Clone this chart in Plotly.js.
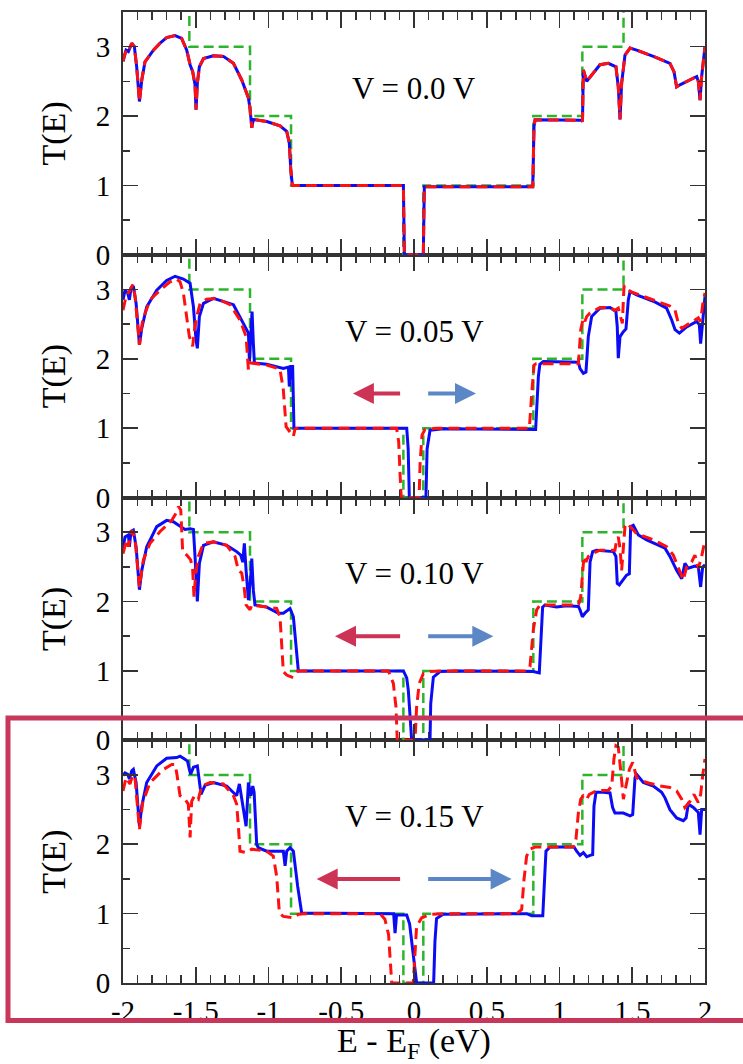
<!DOCTYPE html>
<html>
<head>
<meta charset="utf-8">
<script src="https://cdn.plot.ly/plotly-3.0.1.min.js"></script>
<style>html,body{margin:0;padding:0;background:#fff;}#chart{width:743px;height:1064px;}</style>
</head>
<body>
<div id="chart"></div>
<script>
// ---------- data (E - E_F in eV, T(E)) ----------
const xTickVals = [-2, -1.5, -1, -0.5, 0, 0.5, 1, 1.5, 2];
const xTickText = ['-2', '-1.5', '-1', '-0.5', '0', '0.5', '1', '1.5', '2'];
const yTickVals = [0, 1, 2, 3];
const yTickText = ['0', '1', '2', '3'];
const biasLabels = ['V = 0.0 V', 'V = 0.05 V', 'V = 0.10 V', 'V = 0.15 V'];

// ideal (pristine) step transmission, same in every panel
const ideal_E = [-2, -1.544, -1.544, -1.127, -1.127, -0.845, -0.845, -0.073, -0.073, 0.064, 0.064, 0.82, 0.82, 1.157, 1.157, 1.44, 1.44, 2];
const ideal_T = [4, 4, 3, 3, 2, 2, 1, 1, 0, 0, 1, 1, 2, 2, 3, 3, 4, 4];

// V = 0.0 V (blue and red coincide)
const v00_curve = [[-2.0,2.79],[-1.979,2.95],[-1.963,2.93],[-1.94,3.05],[-1.922,3.0],[-1.906,2.71],[-1.887,2.21],[-1.871,2.52],[-1.849,2.78],[-1.791,2.95],[-1.745,3.05],[-1.70,3.13],[-1.642,3.16],[-1.597,3.12],[-1.562,2.95],[-1.539,2.74],[-1.521,2.64],[-1.505,2.45],[-1.498,2.09],[-1.489,2.47],[-1.475,2.71],[-1.447,2.83],[-1.379,2.87],[-1.31,2.86],[-1.241,2.76],[-1.184,2.52],[-1.138,2.26],[-1.127,2.11],[-1.115,1.83],[-1.104,1.95],[-1.012,1.92],[-0.921,1.86],[-0.875,1.78],[-0.857,1.61],[-0.847,1.23],[-0.836,1.0],[-0.073,1.0],[-0.066,0],[0.064,0],[0.071,0.98],[0.816,0.98],[0.825,1.85],[0.832,1.945],[1.152,1.94],[1.158,1.92],[1.164,2.665],[1.187,2.50],[1.221,2.59],[1.278,2.74],[1.336,2.76],[1.388,2.71],[1.404,2.42],[1.416,1.95],[1.427,2.47],[1.45,2.88],[1.485,2.98],[1.53,2.95],[1.645,2.86],[1.759,2.76],[1.787,2.64],[1.805,2.42],[1.828,2.45],[1.943,2.57],[1.954,2.50],[1.966,2.23],[1.977,2.57],[2.0,3.0]];

// V = 0.05 V
const v05_blue = [[-2.0,2.85],[-1.986,2.99],[-1.968,2.95],[-1.956,2.85],[-1.945,3.02],[-1.929,3.05],[-1.91,2.80],[-1.887,2.20],[-1.871,2.44],[-1.837,2.75],[-1.768,2.99],[-1.70,3.13],[-1.642,3.19],[-1.585,3.15],[-1.539,3.09],[-1.516,2.75],[-1.498,2.27],[-1.489,2.15],[-1.475,2.61],[-1.447,2.80],[-1.379,2.87],[-1.241,2.78],[-1.173,2.51],[-1.138,2.37],[-1.131,1.96],[-1.12,2.32],[-1.113,2.68],[-1.104,2.22],[-1.097,1.94],[-1.012,1.92],[-0.898,1.86],[-0.863,1.88],[-0.857,1.60],[-0.847,1.89],[-0.834,1.89],[-0.825,1.0],[-0.05,1.0],[-0.04,0.7],[-0.032,0],[0.082,0],[0.09,0.7],[0.11,0.97],[0.2,0.99],[0.836,0.98],[0.855,1.75],[0.865,1.92],[0.889,1.96],[1.13,1.95],[1.141,1.86],[1.164,1.79],[1.182,1.81],[1.198,2.32],[1.221,2.61],[1.278,2.73],[1.347,2.74],[1.388,2.68],[1.397,2.46],[1.404,2.01],[1.416,2.32],[1.439,2.39],[1.457,2.43],[1.473,2.85],[1.485,2.97],[1.53,2.92],[1.645,2.83],[1.736,2.73],[1.771,2.56],[1.794,2.42],[1.824,2.37],[1.874,2.46],[1.943,2.54],[1.961,2.49],[1.97,2.22],[1.982,2.49],[2.0,2.90]];
const v05_red = [[-2.0,2.70],[-1.979,2.90],[-1.952,2.99],[-1.933,3.07],[-1.917,2.90],[-1.887,2.20],[-1.865,2.56],[-1.814,2.85],[-1.745,2.99],[-1.677,3.11],[-1.631,3.15],[-1.608,3.11],[-1.585,2.95],[-1.562,2.56],[-1.544,2.32],[-1.521,2.18],[-1.509,2.42],[-1.493,2.61],[-1.47,2.80],[-1.425,2.86],[-1.356,2.87],[-1.264,2.78],[-1.196,2.56],[-1.154,2.32],[-1.138,1.84],[-1.122,1.94],[-1.012,1.91],[-0.921,1.85],[-0.898,1.55],[-0.879,1.02],[-0.852,0.95],[-0.829,0.88],[-0.818,0.99],[-0.8,1.0],[-0.12,1.0],[-0.105,0.8],[-0.095,0.3],[-0.088,0],[0.035,0],[0.042,0.5],[0.055,0.9],[0.075,0.98],[0.15,1.0],[0.793,1.0],[0.809,1.5],[0.825,1.91],[0.84,1.93],[1.13,1.93],[1.146,2.42],[1.164,2.59],[1.175,2.54],[1.187,2.61],[1.21,2.66],[1.278,2.74],[1.347,2.74],[1.381,2.70],[1.404,2.73],[1.42,2.61],[1.432,2.51],[1.443,3.04],[1.462,3.05],[1.485,2.97],[1.645,2.85],[1.759,2.76],[1.794,2.70],[1.817,2.51],[1.84,2.44],[1.897,2.51],[1.954,2.59],[1.97,2.54],[1.984,2.78],[2.0,2.95]];

// V = 0.10 V
const v10_blue = [[-2.0,2.77],[-1.986,2.93],[-1.963,2.96],[-1.956,2.79],[-1.945,3.01],[-1.929,3.03],[-1.91,2.79],[-1.887,2.17],[-1.871,2.45],[-1.837,2.79],[-1.768,3.08],[-1.70,3.17],[-1.654,3.15],[-1.608,3.08],[-1.574,3.04],[-1.539,3.05],[-1.516,3.04],[-1.505,2.65],[-1.489,2.0],[-1.475,2.55],[-1.447,2.81],[-1.379,2.86],[-1.287,2.81],[-1.219,2.72],[-1.191,2.67],[-1.177,2.57],[-1.166,2.84],[-1.154,2.45],[-1.138,2.02],[-1.122,2.36],[-1.115,2.62],[-1.104,2.16],[-1.093,1.95],[-1.012,1.92],[-0.932,1.83],[-0.898,1.83],[-0.852,1.90],[-0.829,1.78],[-0.811,1.30],[-0.795,1.0],[-0.073,1.0],[-0.05,0.9],[-0.039,0.72],[-0.023,0.24],[-0.016,0],[0.11,0],[0.115,0.53],[0.133,0.91],[0.179,0.99],[0.3,1.0],[0.82,0.99],[0.861,0.97],[0.87,1.44],[0.884,1.92],[0.9,1.95],[0.98,1.92],[1.05,1.94],[1.13,1.93],[1.141,1.88],[1.157,1.78],[1.175,1.83],[1.198,1.88],[1.21,2.57],[1.228,2.72],[1.255,2.74],[1.301,2.73],[1.37,2.72],[1.388,2.65],[1.397,2.26],[1.411,2.24],[1.439,2.31],[1.461,2.38],[1.48,2.40],[1.489,3.08],[1.507,3.10],[1.542,2.96],[1.599,2.89],[1.725,2.77],[1.759,2.65],[1.805,2.45],[1.84,2.33],[1.862,2.55],[1.885,2.48],[1.931,2.51],[1.954,2.50],[1.97,2.21],[1.984,2.50],[2.0,2.53]];
const v10_red = [[-2.0,2.69],[-1.975,2.89],[-1.963,2.79],[-1.94,3.03],[-1.917,2.89],[-1.887,2.21],[-1.86,2.60],[-1.814,2.84],[-1.745,3.01],[-1.70,3.10],[-1.665,3.17],[-1.642,3.25],[-1.619,3.37],[-1.603,3.32],[-1.597,2.89],[-1.59,2.72],[-1.562,2.67],[-1.535,2.60],[-1.521,2.45],[-1.512,2.07],[-1.50,2.41],[-1.482,2.65],[-1.447,2.84],[-1.379,2.86],[-1.287,2.81],[-1.23,2.65],[-1.207,2.45],[-1.184,2.41],[-1.168,2.21],[-1.154,1.95],[-1.127,1.88],[-1.115,1.95],[-1.012,1.92],[-0.944,1.90],[-0.921,1.78],[-0.909,1.40],[-0.898,0.99],[-0.875,0.94],[-0.84,0.91],[-0.825,0.97],[-0.8,1.0],[-0.176,1.0],[-0.142,0.82],[-0.124,0.48],[-0.115,0],[0.007,0],[0.018,0.48],[0.036,0.82],[0.064,0.96],[0.11,0.99],[0.2,1.0],[0.774,1.0],[0.797,1.06],[0.82,1.59],[0.843,1.88],[0.866,1.95],[1.13,1.95],[1.146,2.07],[1.157,2.40],[1.168,2.65],[1.182,2.57],[1.198,2.65],[1.221,2.69],[1.278,2.74],[1.381,2.74],[1.393,2.89],[1.404,2.93],[1.416,2.77],[1.427,2.45],[1.439,2.72],[1.45,3.08],[1.466,3.13],[1.485,3.08],[1.53,2.98],[1.645,2.89],[1.736,2.79],[1.782,2.67],[1.828,2.43],[1.851,2.31],[1.874,2.50],[1.908,2.57],[1.931,2.67],[1.954,2.48],[1.977,2.65],[2.0,2.89]];

// V = 0.15 V
const v15_blue = [[-2.0,2.99],[-1.986,3.03],[-1.968,3.01],[-1.956,2.94],[-1.94,3.06],[-1.929,3.08],[-1.91,2.89],[-1.887,2.26],[-1.871,2.55],[-1.837,2.89],[-1.768,3.13],[-1.70,3.24],[-1.631,3.25],[-1.608,3.27],[-1.585,3.24],[-1.557,3.20],[-1.544,3.08],[-1.535,3.01],[-1.516,3.11],[-1.489,3.13],[-1.477,2.94],[-1.464,2.72],[-1.436,2.85],[-1.379,2.89],[-1.287,2.84],[-1.219,2.70],[-1.2,2.87],[-1.184,2.65],[-1.154,2.26],[-1.138,2.89],[-1.122,2.70],[-1.108,2.84],[-1.099,2.75],[-1.081,2.0],[-1.07,1.95],[-1.012,1.90],[-0.898,1.90],[-0.886,1.69],[-0.875,1.90],[-0.852,1.95],[-0.829,1.90],[-0.8,1.40],[-0.772,1.01],[-0.14,1.0],[-0.13,0.72],[-0.12,0.98],[-0.05,0.98],[-0.03,0.85],[-0.005,0.4],[0.018,0],[0.135,0],[0.144,0.6],[0.155,0.93],[0.2,0.99],[0.774,1.0],[0.809,0.97],[0.885,0.97],[0.893,1.40],[0.907,1.90],[0.935,1.96],[1.1,1.96],[1.118,1.90],[1.141,1.84],[1.164,1.88],[1.187,1.82],[1.21,1.84],[1.228,1.85],[1.237,2.55],[1.251,2.75],[1.301,2.75],[1.347,2.74],[1.365,2.53],[1.381,2.45],[1.439,2.45],[1.485,2.41],[1.503,2.43],[1.519,2.96],[1.53,3.01],[1.576,2.89],[1.645,2.84],[1.702,2.75],[1.725,2.67],[1.759,2.50],[1.805,2.38],[1.851,2.34],[1.87,2.38],[1.885,2.58],[1.92,2.53],[1.954,2.46],[1.966,2.14],[1.977,2.50],[2.0,2.50]];
const v15_red = [[-2.0,2.77],[-1.979,2.96],[-1.952,2.87],[-1.933,3.0],[-1.917,2.94],[-1.887,2.22],[-1.865,2.60],[-1.814,2.89],[-1.722,3.08],[-1.665,3.15],[-1.642,3.15],[-1.631,3.03],[-1.608,2.70],[-1.574,2.65],[-1.551,2.58],[-1.539,2.10],[-1.528,2.62],[-1.509,2.70],[-1.482,2.65],[-1.459,2.84],[-1.402,2.89],[-1.31,2.87],[-1.241,2.70],[-1.219,2.58],[-1.207,2.26],[-1.196,1.90],[-1.15,1.88],[-1.115,1.93],[-1.012,1.90],[-0.967,1.83],[-0.944,1.54],[-0.925,1.01],[-0.898,0.96],[-0.829,0.94],[-0.795,0.99],[-0.75,1.0],[-0.234,1.0],[-0.2,0.92],[-0.175,0.7],[-0.16,0.3],[-0.153,0],[-0.005,0],[0.005,0.43],[0.018,0.82],[0.053,0.94],[0.11,0.99],[0.2,1.0],[0.706,1.0],[0.74,1.06],[0.756,1.49],[0.774,1.83],[0.797,1.93],[0.832,1.96],[1.095,1.96],[1.113,2.07],[1.13,2.46],[1.146,2.65],[1.164,2.70],[1.187,2.65],[1.205,2.72],[1.255,2.77],[1.336,2.78],[1.359,2.84],[1.374,3.23],[1.388,3.42],[1.404,3.40],[1.42,3.08],[1.439,2.65],[1.457,2.84],[1.48,3.08],[1.503,3.18],[1.53,2.96],[1.599,2.89],[1.691,2.84],[1.759,2.82],[1.805,2.77],[1.84,2.65],[1.862,2.53],[1.897,2.62],[1.924,2.72],[1.954,2.60],[1.97,2.72],[1.984,2.99],[2.0,3.23]];

// current-direction arrows per panel: [tail, tip] in E (eV), drawn at T = 1.5
const arrowY = 1.5;
const leftArrowTail  = [null, -0.085, -0.085, -0.085];
const leftArrowTip   = [null, -0.42, -0.543, -0.669];
const rightArrowTail = [null, 0.087, 0.087, 0.087];
const rightArrowTip  = [null, 0.426, 0.545, 0.671];

// ---------- build ----------
const SERIF = "'Liberation Serif', 'Times New Roman', Times, serif";
const panels = [
  {blue: v00_curve, red: v00_curve},
  {blue: v05_blue, red: v05_red},
  {blue: v10_blue, red: v10_red},
  {blue: v15_blue, red: v15_red}
];
// panel i (top to bottom) -> axis suffix
const suffix = ['4', '3', '2', ''];

const traces = [];
const annotations = [];
function arrowAnn(xa, ya, tail, tip, color) {
  return {xref: xa, yref: ya, axref: xa, ayref: ya, x: tip, y: arrowY, ax: tail, ay: arrowY,
    text: '', showarrow: true, arrowhead: 2, arrowsize: 1.05, arrowwidth: 4, arrowcolor: color,
    standoff: 0, startstandoff: 0};
}
panels.forEach((p, i) => {
  const xa = 'x' + suffix[i], ya = 'y' + suffix[i];
  traces.push({x: ideal_E, y: ideal_T, xaxis: xa, yaxis: ya, mode: 'lines', showlegend: false,
    line: {color: '#2cb52c', width: 2.5, dash: '10px,5px'}, hoverinfo: 'skip'});
  traces.push({x: p.blue.map(d => d[0]), y: p.blue.map(d => d[1]), xaxis: xa, yaxis: ya, mode: 'lines', showlegend: false,
    line: {color: '#0b0bf5', width: 3}});
  traces.push({x: p.red.map(d => d[0]), y: p.red.map(d => d[1]), xaxis: xa, yaxis: ya, mode: 'lines', showlegend: false,
    line: {color: '#ff1010', width: 3, dash: '11px,6px'}});
  annotations.push({xref: xa, yref: ya, x: 0, y: 2.4, text: biasLabels[i], showarrow: false,
    font: {family: SERIF, size: 31, color: '#000'}});
  if (leftArrowTip[i] !== null) {
    annotations.push(arrowAnn(xa, ya, leftArrowTail[i], leftArrowTip[i], '#cc3355'));
    annotations.push(arrowAnn(xa, ya, rightArrowTail[i], rightArrowTip[i], '#5b87c6'));
  }
});

const axisColor = '#333';
function xAxis(anchor, isBottom) {
  const a = {
    anchor: anchor, range: [-2, 2], showline: true, linecolor: axisColor, linewidth: 2, mirror: 'ticks',
    ticks: 'inside', ticklen: 16, tickwidth: 1.6, tickcolor: axisColor,
    tickmode: 'array', tickvals: xTickVals, ticktext: xTickText,
    minor: {tickmode: 'linear', tick0: 0, dtick: 0.1, ticks: 'inside', ticklen: 8, tickwidth: 1.6, tickcolor: axisColor},
    showgrid: false, zeroline: false, showticklabels: isBottom,
    tickfont: {family: SERIF, size: 29, color: '#000'}, ticklabelstandoff: 1
  };
  if (isBottom) {
    a.title = {text: 'E - E<sub>F</sub> (eV)', font: {family: SERIF, size: 34, color: '#000'}, standoff: 11};
  }
  return a;
}
function yAxis(anchor, domain) {
  return {
    anchor: anchor, domain: domain, range: [0, 3.5], showline: true, linecolor: axisColor, linewidth: 2, mirror: 'ticks',
    ticks: 'inside', ticklen: 15, tickwidth: 1.6, tickcolor: axisColor,
    tickmode: 'array', tickvals: yTickVals, ticktext: yTickText,
    minor: {tickmode: 'linear', tick0: 0, dtick: 0.5, ticks: 'inside', ticklen: 7, tickwidth: 1.6, tickcolor: axisColor},
    showgrid: false, zeroline: false,
    tickfont: {family: SERIF, size: 29, color: '#000'}, ticklabelstandoff: 5,
    title: {text: 'T(E)', font: {family: SERIF, size: 34, color: '#000'}, standoff: 20}
  };
}

const layout = {
  width: 743, height: 1064,
  margin: {l: 123, r: 38, t: 12, b: 81},
  paper_bgcolor: '#fff', plot_bgcolor: '#fff',
  showlegend: false,
  font: {family: SERIF, color: '#000'},
  xaxis: xAxis('y', true), xaxis2: xAxis('y2', false), xaxis3: xAxis('y3', false), xaxis4: xAxis('y4', false),
  yaxis: yAxis('x', [0, 0.25]), yaxis2: yAxis('x2', [0.25, 0.5]), yaxis3: yAxis('x3', [0.5, 0.75]), yaxis4: yAxis('x4', [0.75, 1]),
  annotations: annotations,
  shapes: [{type: 'rect', xref: 'paper', yref: 'paper', x0: -0.1976, x1: 1.078, y0: -0.0386, y1: 0.2729,
    line: {color: '#c8375a', width: 5}, fillcolor: 'rgba(0,0,0,0)', layer: 'above'}]
};

Plotly.newPlot('chart', traces, layout, {staticPlot: true, displayModeBar: false});
</script>
</body>
</html>
